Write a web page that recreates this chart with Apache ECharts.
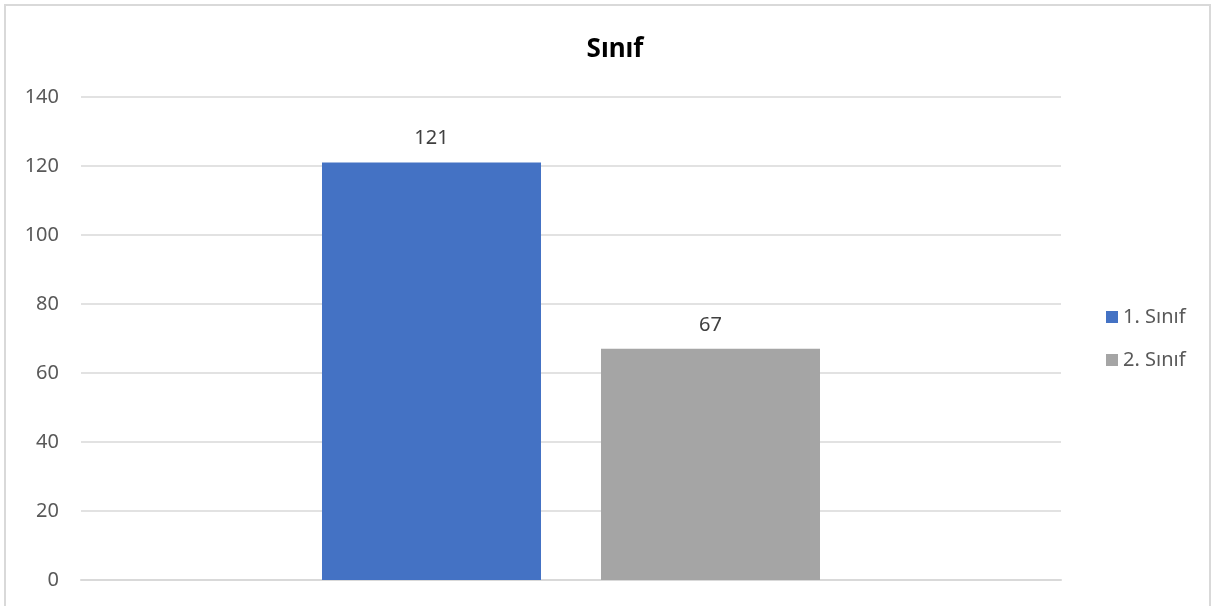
<!DOCTYPE html>
<html><head><meta charset="utf-8">
<script src="https://cdn.jsdelivr.net/npm/echarts@6/dist/echarts.min.js"></script>
<style>html,body{margin:0;padding:0;background:#fff}#c{width:1215px;height:606px}</style>
</head><body><div id="c"></div>
<script>
const categories = [''];
const seriesNames = ['1. Sınıf', '2. Sınıf'];
const values1 = [121];
const values2 = [67];
const yTicks = [0, 20, 40, 60, 80, 100, 120, 140];
const colors = ['#4472c4', '#a5a5a5'];
const font = '"Noto Sans", "Liberation Sans", sans-serif';

const chart = echarts.init(document.getElementById('c'));
chart.setOption({
  animation: false,
  title: { text: 'Sınıf', top: 32, left: 610, textAlign: 'center', textStyle: { fontFamily: font, fontSize: 26, fontWeight: 'bold', color: '#000' } },
  graphic: [{ type: 'rect', shape: { x: 5, y: 5, width: 1205, height: 610 }, style: { fill: 'none', stroke: '#d9d9d9', lineWidth: 2 }, silent: true }],
  legend: {
    orient: 'vertical', left: 1101, top: 302, itemWidth: 12, itemHeight: 12, itemGap: 23,
    icon: 'rect',
    textStyle: { fontFamily: font, fontSize: 20, color: '#595959' },
    data: seriesNames
  },
  grid: { left: 81, right: 154, top: 97, bottom: 26, containLabel: false },
  xAxis: { type: 'category', data: categories, axisLine: { lineStyle: { color: '#d9d9d9', width: 2 } }, axisTick: { show: false }, axisLabel: { show: false } },
  yAxis: {
    type: 'value', min: yTicks[0], max: yTicks[yTicks.length - 1], interval: 20,
    axisLine: { show: false }, axisTick: { show: false },
    splitLine: { lineStyle: { color: '#d9d9d9', width: 1.5 } },
    axisLabel: { fontFamily: font, fontSize: 20, color: '#595959', margin: 22 }
  },
  series: [
    { name: seriesNames[0], type: 'bar', data: values1, barWidth: 219, barGap: '27.4%', itemStyle: { color: colors[0] },
      label: { show: true, position: 'top', distance: 14, fontFamily: font, fontSize: 20, color: '#404040' } },
    { name: seriesNames[1], type: 'bar', data: values2, barWidth: 219, itemStyle: { color: colors[1] },
      label: { show: true, position: 'top', distance: 14, fontFamily: font, fontSize: 20, color: '#404040' } }
  ]
});
</script></body></html>
